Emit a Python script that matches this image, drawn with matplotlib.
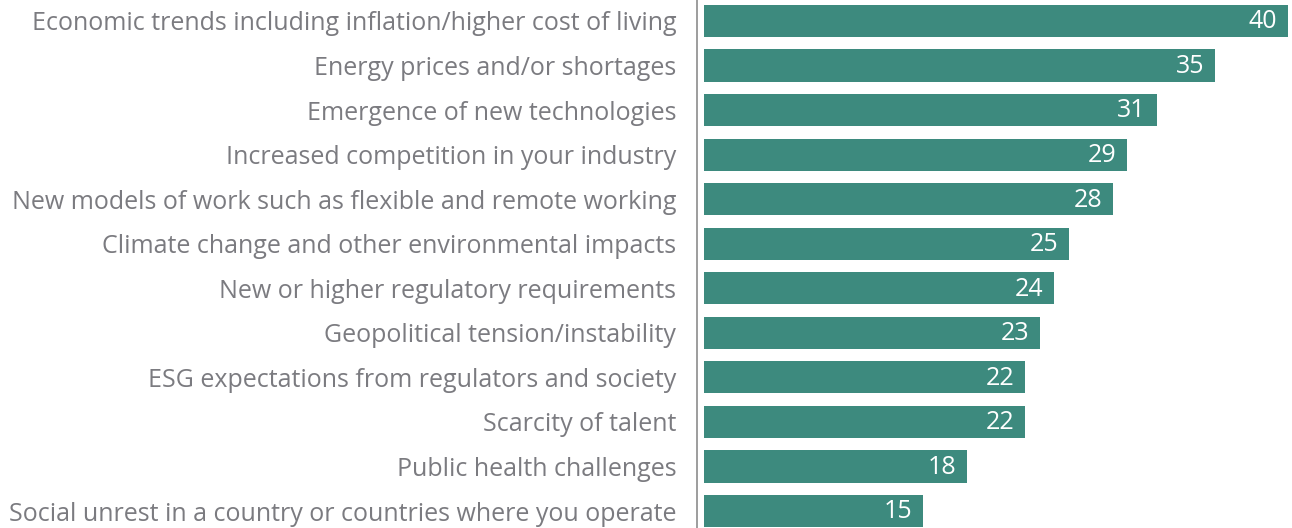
import matplotlib
matplotlib.use('Agg')
import matplotlib.pyplot as plt

labels = ['Economic trends including inflation/higher cost of living',
          'Energy prices and/or shortages',
          'Emergence of new technologies',
          'Increased competition in your industry',
          'New models of work such as flexible and remote working',
          'Climate change and other environmental impacts',
          'New or higher regulatory requirements',
          'Geopolitical tension/instability',
          'ESG expectations from regulators and society',
          'Scarcity of talent',
          'Public health challenges',
          'Social unrest in a country or countries where you operate']
values = [40, 35, 31, 29, 28, 25, 24, 23, 22, 22, 18, 15]

plt.rcParams['font.family'] = ['Open Sans', 'DejaVu Sans']

fig = plt.figure(figsize=(12.92, 5.28), dpi=100)
ax = fig.add_axes([697 / 1292, 0, 1 - 697 / 1292, 1])

pos = list(range(len(values)))
ax.barh(pos, values, height=0.72, color='#3d8a7e')
for p, v in zip(pos, values):
    ax.text(v - 0.75, p + 0.02, str(v), color='white', fontsize=18,
            ha='right', va='center')

ax.set_xlim(-0.48, 40.27)
ax.set_ylim(11.38, -0.47)
ax.set_yticks(pos)
ax.set_yticklabels(labels, fontsize=18.0, color='#7b7b80')
ax.tick_params(axis='y', length=0, pad=15)
ax.set_xticks([])
for s in ['top', 'right', 'bottom']:
    ax.spines[s].set_visible(False)
ax.spines['left'].set_color('#8c8c8c')
ax.spines['left'].set_linewidth(1.2)

fig.savefig('out.png', dpi=100)
